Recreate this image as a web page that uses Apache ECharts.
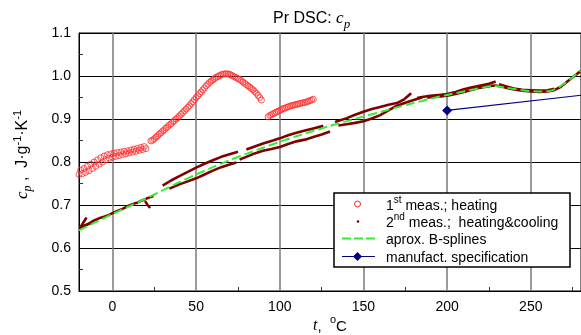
<!DOCTYPE html>
<html><head><meta charset="utf-8">
<script src="https://cdn.jsdelivr.net/npm/echarts@6/dist/echarts.min.js"></script>
<style>html,body{margin:0;padding:0;background:#fff}#c{width:581px;height:335px}</style>
</head><body><div id="c"></div>
<script>
// ---- axis ticks ----
const xMajorTicks = [0, 50, 100, 150, 200, 250];
const xMinorTicks = [25, 75, 125, 175, 225, 275];

// ---- 1st measurement, heating (red circles) ----
const meas1SegA_lower = [[-20,0.771],[-18,0.773],[-16,0.776],[-14,0.780],[-12,0.785],[-10,0.790],[-8,0.795],[-6,0.800],[-4,0.805],[-2,0.809],[0,0.811],[2,0.813],[4,0.815],[6,0.817],[8,0.819],[10,0.821],[12,0.823],[14,0.825],[16,0.827],[18,0.829],[20,0.831]];
const meas1SegA_upper = [[-19,0.781],[-17,0.785],[-15,0.790],[-13,0.795],[-11,0.800],[-9,0.805],[-7,0.810],[-5,0.814],[-3,0.817],[-1,0.819],[1,0.821],[3,0.822],[5,0.823],[7,0.825],[9,0.826],[11,0.828],[13,0.830],[15,0.832],[17,0.834],[19,0.836]];
const meas1SegB = [[23,0.849],[24,0.851],[25,0.854],[26,0.858],[27,0.861],[28,0.865],[29,0.868],[30,0.872],[31,0.875],[32,0.879],[33,0.882],[34,0.886],[35,0.889],[36,0.893],[37,0.896],[38,0.900],[39,0.903],[40,0.907],[41,0.911],[42,0.915],[43,0.919],[44,0.923],[45,0.927],[46,0.931],[47,0.936],[48,0.940],[49,0.945],[50,0.950],[51,0.954],[52,0.959],[53,0.963],[54,0.968],[55,0.972],[56,0.977],[57,0.981],[58,0.985],[59,0.988],[60,0.991],[61,0.994],[62,0.997],[63,0.999],[64,1.001],[65,1.003],[66,1.004],[67,1.005],[68,1.005],[69,1.005],[70,1.004],[71,1.002],[72,1.000],[73,0.998],[74,0.996],[75,0.994],[76,0.992],[77,0.989],[78,0.986],[79,0.983],[80,0.980],[81,0.977],[82,0.974],[83,0.971],[84,0.968],[85,0.964],[86,0.960],[87,0.955],[88,0.950],[89,0.944]];
const meas1SegC = [[93,0.905],[94,0.908],[95,0.910],[96,0.912],[97,0.914],[98,0.916],[99,0.918],[100,0.920],[101,0.922],[102,0.924],[103,0.925],[104,0.927],[105,0.928],[106,0.930],[107,0.931],[108,0.932],[109,0.933],[110,0.934],[111,0.935],[112,0.936],[113,0.937],[114,0.938],[115,0.938],[116,0.940],[117,0.941],[118,0.943],[119,0.944],[120,0.946]];

// ---- 2nd measurement, heating & cooling (dark red) ----
const meas2Low   = [[-19.5,0.646],[-17,0.651],[-14,0.657],[-11,0.664],[-8,0.669],[-5,0.673],[-2,0.677],[0,0.681],[3,0.686],[6,0.691],[9,0.697],[12,0.702],[15,0.706],[18,0.711],[21,0.716],[24.5,0.721]];
const meas2Hook  = [[-15.5,0.671],[-19,0.649],[-12,0.659]];
const meas2Glitch= [[19.5,0.709],[21,0.700],[22.5,0.693]];
const meas2Up1   = [[30,0.745],[35,0.757],[40,0.767],[45,0.777],[50,0.787],[55,0.796],[60,0.804],[65,0.812],[70,0.818],[75,0.824]];
const meas2Lo1   = [[34,0.738],[40,0.748],[45,0.755],[50,0.762],[55,0.771],[60,0.780],[65,0.788],[70,0.794],[74,0.799]];
const meas2Up2   = [[80,0.829],[85,0.836],[90,0.843],[95,0.849],[100,0.855],[105,0.862],[110,0.868],[115,0.873],[120,0.878],[126,0.884]];
const meas2Lo2   = [[76,0.806],[80,0.812],[85,0.820],[90,0.826],[95,0.830],[100,0.835],[105,0.842],[110,0.848],[115,0.852],[120,0.858],[125,0.864],[130,0.871]];
const meas2Up3   = [[133,0.893],[140,0.902],[145,0.910],[150,0.917],[155,0.923],[160,0.928],[165,0.933],[170,0.937],[174,0.945],[178.5,0.960]];
const meas2Lo3   = [[135,0.885],[140,0.888],[145,0.891],[150,0.895],[155,0.901],[160,0.909],[165,0.920],[170,0.931],[175,0.938],[180,0.944],[185,0.950]];
const meas2Up4   = [[182,0.949],[185,0.951],[190,0.954],[195,0.956],[200,0.958],[205,0.963],[210,0.969],[215,0.974],[220,0.978],[225,0.982],[229,0.987]];
const meas2Lo4   = [[188,0.950],[195,0.952],[200,0.954],[205,0.958],[210,0.963],[215,0.968],[220,0.973],[226,0.977],[229,0.978],[233,0.975],[237,0.971],[241,0.968],[245,0.966],[250,0.964],[255,0.963],[260,0.964],[264,0.967],[268,0.975],[272,0.988],[276,1.000],[280,1.012]];
const meas2Mid4  = [[231,0.981],[235,0.976],[240,0.971],[245,0.968],[250,0.967],[255,0.966],[260,0.967],[264,0.970]];

// ---- approximation B-splines (green dashed) ----
const splineFit = [[-20,0.641],[-10,0.660],[0,0.679],[10,0.697],[20,0.715],[30,0.734],[40,0.753],[50,0.771],[60,0.788],[70,0.804],[80,0.819],[90,0.833],[100,0.847],[110,0.860],[120,0.872],[130,0.884],[140,0.895],[150,0.906],[160,0.916],[170,0.927],[180,0.937],[190,0.947],[200,0.956],[210,0.964],[220,0.972],[228,0.977],[235,0.973],[245,0.967],[255,0.964],[262,0.966],[268,0.977],[274,0.994],[280,1.013]];

// ---- manufacturer specification (navy) ----
const manufSpec = [[200,0.920],[300,0.964]];

// ---- texts ----
const titleText = '{n|Pr DSC: }{c|c}{p|p}';
const yName = '{c|c}{p|p}{n| ,  J·g}{s|-1}{n|·K}{s|-1}';
const xName = '{t|t}{n|,  }{s|o}{n|C}';
const legendTexts = ['{n|1}{s|st}{n| meas.; heating}', '{n|2}{s|nd}{n| meas.;  heating&cooling}', '{n|aprox. B-splines}', '{n|manufact. specification}'];

const SANS = '"Liberation Sans", Arial, sans-serif';
const SERIF = '"Liberation Serif", "Times New Roman", serif';

const chart = echarts.init(document.getElementById('c'), null, {renderer: 'canvas'});

const darkRed = '#800000';
function m2(data) {
  return {type: 'line', data, symbol: 'none', showSymbol: false, lineStyle: {color: darkRed, width: 2.6}, z: 3, silent: true};
}

const legendRich = {
  n: {fontFamily: SANS, fontSize: 14, lineHeight: 18, verticalAlign: 'bottom', fill: '#000'},
  s: {fontFamily: SANS, fontSize: 10, lineHeight: 10, verticalAlign: 'top', fill: '#000'}
};
const legendRowY = [204, 221.5, 238.5, 256.5];

const option = {
  backgroundColor: '#fff',
  animation: false,
  title: {
    text: titleText, left: 273, top: 7, padding: 0,
    textStyle: {
      fontWeight: 'normal',
      rich: {
        n: {fontFamily: SANS, fontSize: 16, fontWeight: 'normal', lineHeight: 24, color: '#000'},
        c: {fontFamily: SERIF, fontStyle: 'italic', fontWeight: 'normal', fontSize: 17, lineHeight: 24, color: '#000'},
        p: {fontFamily: SERIF, fontStyle: 'italic', fontWeight: 'normal', fontSize: 13, lineHeight: 13, verticalAlign: 'bottom', color: '#000'}
      }
    }
  },
  grid: {left: 79, top: 33, width: 502, height: 258, containLabel: false, outerBoundsMode: 'none',
         show: true, borderColor: '#000', borderWidth: 1, backgroundColor: 'transparent'},
  xAxis: [{
    type: 'value', min: -20, max: 280, position: 'bottom',
    axisLine: {show: true, onZero: false, lineStyle: {color: '#000', width: 1}},
    axisTick: {show: false, customValues: xMajorTicks},
    axisLabel: {customValues: xMajorTicks, fontFamily: SANS, fontSize: 14, color: '#000', margin: 9},
    splitLine: {show: true, showMinLine: true, showMaxLine: true, lineStyle: {color: '#7a7a7a', width: 1.5}},
    name: xName, nameLocation: 'middle', nameGap: 23, nameMoveOverlap: false,
    nameTextStyle: {
      rich: {
        t: {fontFamily: SERIF, fontStyle: 'italic', fontSize: 16, lineHeight: 20, verticalAlign: 'bottom', color: '#000'},
        n: {fontFamily: SANS, fontSize: 15, lineHeight: 20, verticalAlign: 'bottom', color: '#000'},
        s: {fontFamily: SANS, fontSize: 11, lineHeight: 11, verticalAlign: 'top', color: '#000'}
      }
    }
  }, {
    type: 'value', min: -20, max: 280, position: 'bottom', offset: 0,
    axisLine: {show: false, onZero: false},
    axisTick: {show: true, inside: true, length: 4, customValues: xMinorTicks, lineStyle: {color: '#333'}},
    axisLabel: {show: false},
    splitLine: {show: false}
  }],
  yAxis: [{
    type: 'value', min: 0.5, max: 1.1, interval: 0.1,
    axisLine: {show: true, onZero: false, lineStyle: {color: '#000', width: 1}},
    axisTick: {show: false, inside: true},
    minorTick: {show: true, splitNumber: 2, length: 4, lineStyle: {color: '#333'}},
    axisLabel: {formatter: v => v.toFixed(1), fontFamily: SANS, fontSize: 14, color: '#000', margin: 8},
    splitLine: {show: true, lineStyle: {color: '#000', width: 1}},
    name: yName, nameLocation: 'middle', nameGap: 45, nameRotate: 90, nameMoveOverlap: false,
    nameTextStyle: {
      padding: [0, 0, 0, 15],
      rich: {
        c: {fontFamily: SERIF, fontStyle: 'italic', fontSize: 17, lineHeight: 22, color: '#000'},
        p: {fontFamily: SERIF, fontStyle: 'italic', fontSize: 12, lineHeight: 12, verticalAlign: 'bottom', color: '#000'},
        n: {fontFamily: SANS, fontSize: 16, lineHeight: 22, color: '#000'},
        s: {fontFamily: SANS, fontSize: 11, lineHeight: 11, verticalAlign: 'top', color: '#000'}
      }
    }
  }],
  series: [
    {type: 'scatter', data: meas1SegA_lower.concat(meas1SegA_upper, meas1SegB, meas1SegC), symbol: 'circle', symbolSize: 6,
     itemStyle: {color: 'rgba(0,0,0,0)', borderColor: '#ff2a2a', borderWidth: 1}, z: 2, silent: true},
    m2(meas2Low), m2(meas2Hook), m2(meas2Glitch), m2(meas2Up1), m2(meas2Lo1), m2(meas2Up2), m2(meas2Lo2),
    m2(meas2Up3), m2(meas2Lo3), m2(meas2Up4), m2(meas2Lo4), m2(meas2Mid4),
    {type: 'line', data: splineFit, smooth: 0.3, symbol: 'none', showSymbol: false,
     lineStyle: {color: '#33ee33', width: 2, type: [9, 4]}, z: 4, silent: true},
    {type: 'line', data: manufSpec, symbol: 'diamond', symbolSize: 10, showSymbol: true, clip: true,
     lineStyle: {color: '#000080', width: 1.2}, itemStyle: {color: '#000080'}, z: 5, silent: true}
  ],
  graphic: [
    {type: 'rect', shape: {x: 334, y: 193, width: 236, height: 74}, style: {fill: '#fff', stroke: '#000', lineWidth: 1.5}, z: 100},
    {type: 'circle', shape: {cx: 357.5, cy: legendRowY[0], r: 3}, style: {fill: 'none', stroke: '#ff2a2a', lineWidth: 1}, z: 101},
    {type: 'circle', shape: {cx: 358, cy: legendRowY[1], r: 1.3}, style: {fill: darkRed}, z: 101},
    {type: 'line', shape: {x1: 342, y1: legendRowY[2], x2: 375, y2: legendRowY[2]}, style: {stroke: '#33ee33', lineWidth: 2, lineDash: [9, 3]}, z: 101},
    {type: 'line', shape: {x1: 342, y1: legendRowY[3], x2: 375, y2: legendRowY[3]}, style: {stroke: '#000080', lineWidth: 1.2}, z: 101},
    {type: 'polygon', shape: {points: [[357.5, legendRowY[3]-4.5],[362, legendRowY[3]],[357.5, legendRowY[3]+4.5],[353, legendRowY[3]]]}, style: {fill: '#000080'}, z: 101}
  ].concat(legendTexts.map((t, i) => ({
    type: 'text', z: 101,
    style: {x: 386, y: legendRowY[i], text: t, rich: legendRich, verticalAlign: 'middle', align: 'left', fill: '#000'}
  })))
};
chart.setOption(option);
</script>
</body></html>
